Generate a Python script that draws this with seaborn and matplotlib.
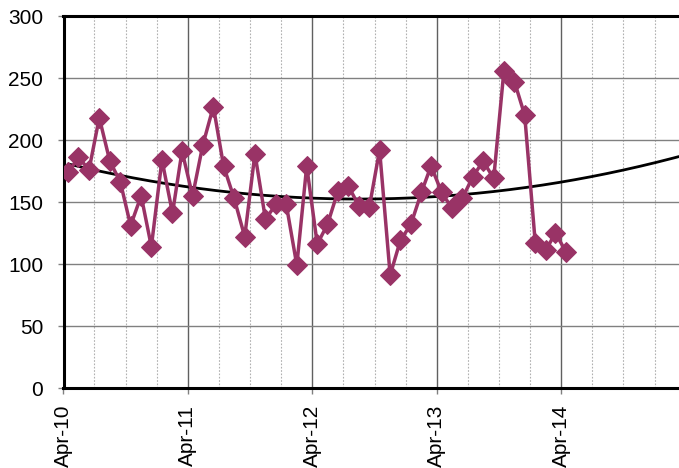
import numpy as np
import pandas as pd
import matplotlib
matplotlib.use("Agg")
import matplotlib.pyplot as plt
import matplotlib.dates as mdates
import seaborn as sns

# ---- data ----
start_month = "2010-04-01"
values = [174, 186, 176, 218, 183, 166, 131, 155, 114, 184, 141, 191, 155,
          196, 227, 179, 153, 122, 189, 136, 148, 148, 99, 179, 116, 132,
          159, 163, 147, 146, 192, 91, 119, 132, 158, 179, 158, 145, 153,
          170, 183, 169, 256, 247, 220, 117, 111, 125, 110]
y_ticks = [0, 50, 100, 150, 200, 250, 300]

dates = pd.date_range(start_month, periods=len(values), freq="MS") + pd.Timedelta(days=14)
df = pd.DataFrame({"date": dates, "value": values})

sns.set_style("white")
plt.rcParams["font.family"] = ["Liberation Sans", "DejaVu Sans"]

fig = plt.figure(figsize=(6.79, 4.68), dpi=100)
ax = fig.add_axes([63.5 / 679, (468 - 388) / 468, (679 - 63.5) / 679, (388 - 16) / 468])

x_left = mdates.date2num(pd.Timestamp("2010-04-01"))
x_right = x_left + 1807

color = "#993366"
sns.lineplot(data=df, x="date", y="value", ax=ax, color=color, linewidth=2.5,
             marker="D", markersize=10.5, markeredgecolor=color, markerfacecolor=color,
             zorder=4)

# polynomial (order 2) trendline fitted to the data, extended forward
xn = mdates.date2num(df["date"])
coef = np.polyfit(xn, values, 2)
xs = np.linspace(xn[0], x_right, 300)
ax.plot(xs, np.polyval(coef, xs), color="black", linewidth=2, zorder=3)

ax.set_xlim(x_left, x_right)
ax.set_ylim(0, 300)
ax.set_yticks(y_ticks)

ax.xaxis.set_major_locator(mdates.MonthLocator(bymonth=[4]))
ax.xaxis.set_minor_locator(mdates.MonthLocator(bymonth=[1, 7, 10]))
ax.xaxis.set_major_formatter(mdates.DateFormatter("%b-%y"))

ax.grid(which="major", axis="y", color="#808080", linewidth=1.0, linestyle="-")
ax.grid(which="major", axis="x", color="#606060", linewidth=1.0, linestyle="-")
ax.grid(which="minor", axis="x", color="#b0b0b0", linewidth=0.8, linestyle=(0, (1.5, 1.5)))
ax.set_axisbelow(True)

for s in ["left", "bottom", "top"]:
    ax.spines[s].set_visible(True)
    ax.spines[s].set_color("black")
    ax.spines[s].set_linewidth(2.2)
ax.spines["right"].set_visible(False)

ax.tick_params(axis="y", which="major", direction="out", length=4.5, width=1,
               color="#808080", pad=10, labelsize=15, left=True, labelcolor="black")
ax.tick_params(axis="x", which="major", direction="out", length=4, width=1,
               color="#808080", pad=8, labelsize=15, bottom=True, labelcolor="black")
ax.tick_params(axis="x", which="minor", length=0)

ax.set_xlabel("")
ax.set_ylabel("")
for lbl in ax.get_xticklabels():
    lbl.set_rotation(90)

fig.savefig("out.png", dpi=100)
